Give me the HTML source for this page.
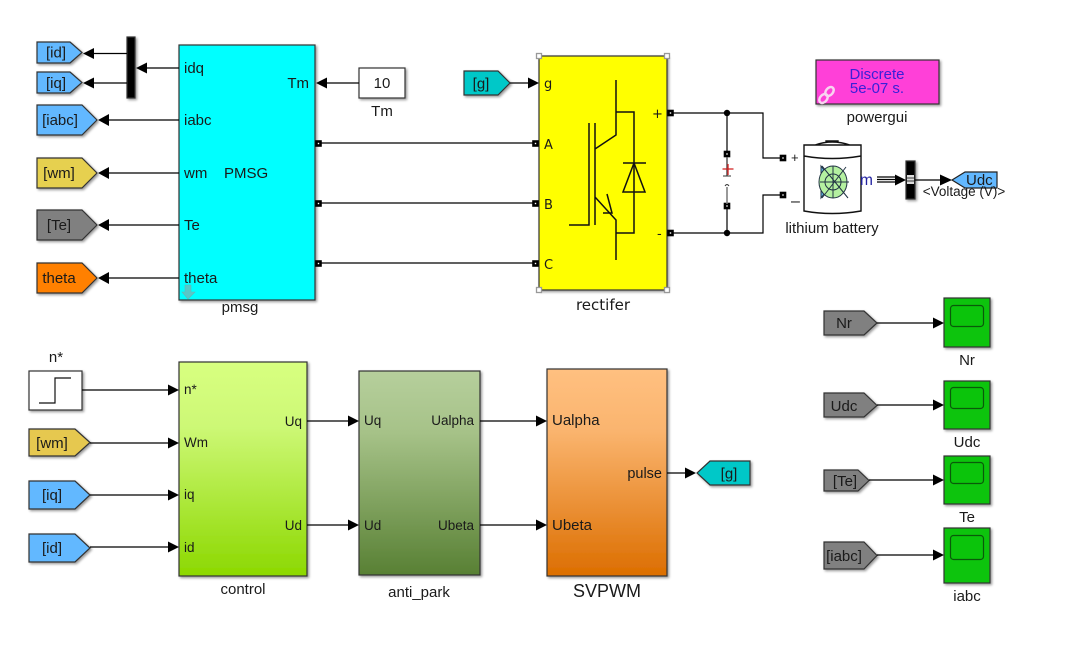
<!DOCTYPE html>
<html><head><meta charset="utf-8"><style>
html,body{margin:0;padding:0;background:#fff}
svg{display:block;filter:blur(.3px)}
text{font-family:"Liberation Sans",sans-serif;font-size:15px;fill:#1a1a1a}
text.s{font-size:13.5px}
text.d{font-family:"DejaVu Sans",sans-serif;font-size:13px}
.w{stroke:#000;stroke-width:1.2;fill:none}
.b{stroke:#333;stroke-width:1.2}
</style></head><body>
<svg width="1081" height="652" viewBox="0 0 1081 652" xmlns="http://www.w3.org/2000/svg">
<defs>
<filter id="s" x="-10%" y="-10%" width="125%" height="125%"><feDropShadow dx="1.5" dy="1.5" stdDeviation="1.2" flood-color="#000" flood-opacity=".4"/></filter>
<linearGradient id="gc" x1="0" y1="0" x2="0" y2="1"><stop offset="0" stop-color="#d8ff80"/><stop offset=".3" stop-color="#cdf876"/><stop offset="1" stop-color="#8cd800"/></linearGradient>
<linearGradient id="ga" x1="0" y1="0" x2="0" y2="1"><stop offset="0" stop-color="#b6cf9c"/><stop offset=".3" stop-color="#a6c288"/><stop offset="1" stop-color="#588034"/></linearGradient>
<linearGradient id="gs" x1="0" y1="0" x2="0" y2="1"><stop offset="0" stop-color="#ffc080"/><stop offset=".3" stop-color="#fab46e"/><stop offset="1" stop-color="#dc6e00"/></linearGradient>
</defs>

<!-- blocks -->
<g filter="url(#s)" class="b">
<rect x="179" y="45" width="136" height="255" fill="#00ffff"/>
<rect x="127" y="37" width="8" height="61" fill="#000"/>
<rect x="359" y="68" width="46" height="30" fill="#fff"/>
<rect x="539" y="56" width="128" height="234" fill="#ffff00"/>
<rect x="816" y="60" width="123" height="44" fill="#ff40d8"/>
<rect x="906" y="161" width="9" height="38" fill="#000"/>
<rect x="179" y="362" width="128" height="214" fill="url(#gc)"/>
<rect x="359" y="371" width="121" height="204" fill="url(#ga)"/>
<rect x="547" y="369" width="120" height="207" fill="url(#gs)"/>
<rect x="29" y="371" width="53" height="39" fill="#fff"/>
<rect x="944" y="298" width="46" height="49" fill="#0bc40b"/>
<rect x="944" y="381" width="46" height="48" fill="#0bc40b"/>
<rect x="944" y="456" width="46" height="48" fill="#0bc40b"/>
<rect x="944" y="528" width="46" height="55" fill="#0bc40b"/>
<!-- left gotos -->
<path d="M37 42H70L82 52.500L70 63H37Z" fill="#62b8ff"/>
<path d="M37 72H70L82 82.500L70 93H37Z" fill="#62b8ff"/>
<path d="M37 105H82L97 120L82 135H37Z" fill="#62b8ff"/>
<path d="M37 158H82L97 173L82 188H37Z" fill="#e6d050"/>
<path d="M37 210H82L97 225L82 240H37Z" fill="#808080"/>
<path d="M37 263H82L97 278L82 293H37Z" fill="#ff8000"/>
<path d="M464 71H498L510 83L498 95H464Z" fill="#00c8c8"/>
<path d="M29 429H75L90 442.500L75 456H29Z" fill="#e6c850"/>
<path d="M29 481H75L90 495L75 509H29Z" fill="#62b8ff"/>
<path d="M29 534H75L90 548L75 562H29Z" fill="#62b8ff"/>
<path d="M750 461H710L697 473L710 485H750Z" fill="#00c8c8"/>
<path d="M824 311H864L877 323L864 335H824Z" fill="#808080"/>
<path d="M824 393H864L877 405.500L864 417H824Z" fill="#808080"/>
<path d="M824 470H858L869 480.500L858 491H824Z" fill="#808080"/>
<path d="M824 542H864L877 555.500L864 569H824Z" fill="#808080"/>
</g>
<path d="M952 180L965 172H997V188H965Z" fill="#62b8ff" stroke="#222" stroke-width="1.2"/>

<!-- wires -->
<g class="w">
<path d="M94 53.500H127M94 83H127M147 68H179M105 120H179M105 173H179M105 225H179M105 278H179"/>
<path d="M327 83H359M316 143H534M316 203H534M316 263H534M510 83H530"/>
<path d="M671 113H763V158H780M671 233H763V195H780M727 113V152M727 209V233"/>
<path d="M915 180H940"/>
<path d="M82 390H168M90 443H168M90 495H168M90 547H168"/>
<path d="M307 421H348M307 525H348M480 421H536M480 525H536M667 473H685"/>
<path d="M877 323H933M877 405H933M869 480H933M877 555H933"/>
<path d="M877 177H895M877 179.500H895M877 182H895"/>
</g>

<!-- arrowheads -->
<g fill="#000">
<path d="M83 53.500L94 48V59ZM83 83L94 77.500V88.500ZM136 68L147 62.500V73.500ZM98 120L109 114V126ZM98 173L109 167V179ZM98 225L109 219V231ZM98 278L109 272V284ZM316 83L327 77.500V88.500Z"/>
<path d="M539 83L528 77.500V88.500Z"/>
<path d="M179 390L168 384.500V395.500ZM179 443L168 437.500V448.500ZM179 495L168 489.500V500.500ZM179 547L168 541.500V552.500Z"/>
<path d="M359 421L348 415.500V426.500ZM359 525L348 519.500V530.500ZM547 421L536 415.500V426.500ZM547 525L536 519.500V530.500ZM696 473L685 467.500V478.500Z"/>
<path d="M944 323L933 317.500V328.500ZM944 405L933 399.500V410.500ZM944 480L933 474.500V485.500ZM944 555L933 549.500V560.500Z"/>
<path d="M906 180L895 174.500V185.500ZM952 180L940 174.500V185.500Z"/>
<circle cx="727" cy="113" r="3.200"/><circle cx="727" cy="233" r="3.200"/>
</g>

<!-- port squares -->
<g fill="#fff" stroke="#000" stroke-width="2.600">
<rect x="316.500" y="141.500" width="4" height="4"/><rect x="316.500" y="201.500" width="4" height="4"/><rect x="316.500" y="261.500" width="4" height="4"/>
<rect x="533.500" y="141.500" width="4" height="4"/><rect x="533.500" y="201.500" width="4" height="4"/><rect x="533.500" y="261.500" width="4" height="4"/>
<rect x="668.500" y="111" width="4" height="4"/><rect x="668.500" y="231" width="4" height="4"/>
<rect x="725" y="152" width="4" height="4"/><rect x="725" y="204" width="4" height="4"/>
<rect x="781" y="156" width="4" height="4"/><rect x="781" y="193" width="4" height="4"/>
</g>
<!-- selection handles -->
<g fill="#fff" stroke="#999" stroke-width="1.300">
<rect x="536.500" y="53.500" width="5" height="5"/><rect x="664.500" y="53.500" width="5" height="5"/>
<rect x="536.500" y="287.500" width="5" height="5"/><rect x="664.500" y="287.500" width="5" height="5"/>
</g>

<!-- IGBT icon -->
<g fill="none" stroke="#111" stroke-width="1.500">
<path d="M616 80V135L595 149M595 123V225M589 123V225H569M595 197L616 220V260"/>
<path d="M616 112H634V192M616 233H634V192"/>
<path d="M607 194L612 213L603 213"/>
<path d="M623 163H646M634 163L623 192H645Z"/>
</g>

<!-- source symbol -->
<path d="M727 157V176" stroke="#555" stroke-width="1.500"/>
<path d="M723 176H731" stroke="#333" stroke-width="1"/>
<path d="M722.500 169H733.500M728 164V175" stroke="#d02020" stroke-width="1.300"/>
<path d="M727 187V204" stroke="#777" stroke-width="1.500"/>
<path d="M725 186Q727 183 729 186" stroke="#333" stroke-width="1" fill="none"/>

<!-- battery -->
<g fill="none" stroke="#111" stroke-width="1.400">
<path d="M804 145H861V211Q832 216 804 211ZM804 156Q832 161 861 156M815 145Q832 139 850 145M826 143V141H838V143"/>
</g>
<path d="M821 166V198L833 182Z" fill="#62b8ea" stroke="#234" stroke-width="1"/>
<ellipse cx="833" cy="182" rx="14" ry="16" fill="#b4f0a0" stroke="#234" stroke-width="1"/>
<circle cx="833" cy="182" r="8" fill="none" stroke="#234" stroke-width="1"/>
<path d="M820 182H849M833 166V198M822 166L848 198M822 198L846 167" stroke="#234" stroke-width="1"/>

<!-- scope screens -->
<g fill="#0bc40b" stroke="#0a5a0a" stroke-width="1.200">
<rect x="950.500" y="305.500" width="33" height="21" rx="3"/>
<rect x="950.500" y="387.500" width="33" height="21" rx="3"/>
<rect x="950.500" y="462.500" width="33" height="21" rx="3"/>
<rect x="950.500" y="535.500" width="33" height="24" rx="3"/>
</g>
<!-- step -->
<path d="M39 403H55V378H71" fill="none" stroke="#111" stroke-width="1.200"/>
<!-- mux centre -->
<rect x="907" y="175" width="7" height="9" fill="#ddd"/>
<path d="M907 178H914M907 181H914" stroke="#000" stroke-width=".8"/>

<!-- powergui link + arrow icon -->
<g fill="none" stroke="#f8d4f0" stroke-width="2.500">
<ellipse cx="823.500" cy="98.500" rx="5" ry="3.500" transform="rotate(-50 823.500 98.500)"/>
<ellipse cx="829.500" cy="91.500" rx="5" ry="3.500" transform="rotate(-50 829.500 91.500)"/>
</g>
<path d="M185 285H191V292H195L188 299L182 292H185Z" fill="#58c8c8" stroke="#60b8b8" stroke-width=".6"/>

<!-- labels -->
<text x="184" y="73">idq</text><text x="184" y="125">iabc</text><text x="184" y="178">wm</text><text x="184" y="230">Te</text><text x="184" y="283">theta</text>
<text x="309" y="88" text-anchor="end">Tm</text><text x="224" y="178">PMSG</text>
<text x="240" y="312" text-anchor="middle">pmsg</text>
<text x="382" y="88" text-anchor="middle">10</text><text x="382" y="116" text-anchor="middle">Tm</text>
<text x="56" y="57.500" text-anchor="middle">[id]</text><text x="56" y="88" text-anchor="middle">[iq]</text>
<text x="60" y="125" text-anchor="middle">[iabc]</text><text x="59" y="178" text-anchor="middle">[wm]</text><text x="59" y="230" text-anchor="middle">[Te]</text><text x="59" y="283" text-anchor="middle">theta</text>
<text x="481" y="88.500" text-anchor="middle">[g]</text>
<text class="d" x="544" y="88">g</text>
<text class="d" x="544" y="149">A</text><text class="d" x="544" y="209">B</text><text class="d" x="544" y="269">C</text>
<text class="d" x="652" y="118">+</text><text class="d" x="657" y="238">-</text>
<text class="d" x="603" y="310" text-anchor="middle" style="font-size:15px">rectifer</text>
<text x="877" y="79" text-anchor="middle" style="fill:#3a20d8">Discrete</text>
<text x="877" y="93" text-anchor="middle" style="fill:#3a20d8">5e-07 s.</text>
<text x="877" y="122" text-anchor="middle">powergui</text>
<text x="791" y="162" style="font-size:13px">+</text><text x="791" y="206" style="font-size:16px">–</text>
<text x="832" y="233" text-anchor="middle">lithium battery</text>
<text x="860" y="185" style="fill:#2020a0;font-size:15.500px">m</text>
<text x="966" y="185">Udc</text>
<text x="964" y="196" text-anchor="middle" style="font-size:13.500px">&lt;Voltage (V)&gt;</text>

<text x="56" y="362" text-anchor="middle">n*</text>
<text class="s" x="184" y="394">n*</text><text class="s" x="184" y="447">Wm</text><text class="s" x="184" y="499">iq</text><text class="s" x="184" y="552">id</text>
<text class="s" x="302" y="426" text-anchor="end">Uq</text><text class="s" x="302" y="530" text-anchor="end">Ud</text>
<text x="243" y="594" text-anchor="middle">control</text>
<text x="52" y="448" text-anchor="middle">[wm]</text><text x="52" y="500" text-anchor="middle">[iq]</text><text x="52" y="553" text-anchor="middle">[id]</text>
<text class="s" x="364" y="425">Uq</text><text class="s" x="364" y="530">Ud</text>
<text class="s" x="474" y="425" text-anchor="end">Ualpha</text><text class="s" x="474" y="530" text-anchor="end">Ubeta</text>
<text x="419" y="597" text-anchor="middle">anti_park</text>
<text x="552" y="425">Ualpha</text><text x="552" y="530">Ubeta</text>
<text x="662" y="478" text-anchor="end" style="font-size:14.500px">pulse</text>
<text x="607" y="597" text-anchor="middle" style="font-size:18px">SVPWM</text>
<text x="729" y="478.500" text-anchor="middle">[g]</text>
<text x="844" y="328" text-anchor="middle">Nr</text><text x="844" y="411" text-anchor="middle">Udc</text><text x="845" y="486" text-anchor="middle">[Te]</text><text x="844" y="561" text-anchor="middle">[iabc]</text>
<text x="967" y="365" text-anchor="middle">Nr</text><text x="967" y="447" text-anchor="middle">Udc</text><text x="967" y="522" text-anchor="middle">Te</text><text x="967" y="601" text-anchor="middle">iabc</text>
</svg>
</body></html>
